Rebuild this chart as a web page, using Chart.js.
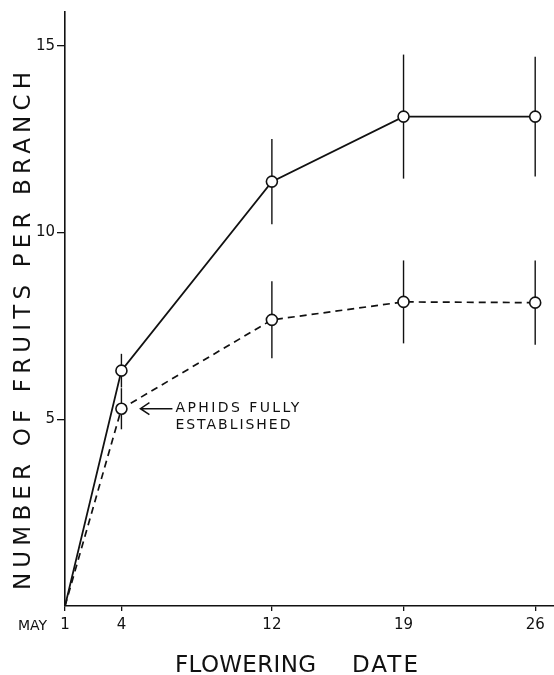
<!DOCTYPE html>
<html>
<head>
<meta charset="utf-8">
<script src="https://cdn.jsdelivr.net/npm/chart.js@4.4.0/dist/chart.umd.min.js"></script>
<style>
  html, body { margin: 0; padding: 0; background: #fff; }
  #wrap { width: 554px; height: 675px; }
</style>
</head>
<body>
<div id="wrap"><canvas id="chart" width="554" height="675"></canvas></div>
<script>
// flowering date (day of May) and fruits per branch
const days = [1, 4, 12, 19, 26];
const xTicks = [1, 4, 12, 19, 26];
const yTicks = [5, 10, 15];
const controlFruits = [0, 6.3, 11.36, 13.1, 13.1];
const controlErr = [0, 0.45, 1.14, 1.66, 1.6];
const aphidFruits = [0, 5.28, 7.66, 8.14, 8.12];
const aphidErr = [0, 0.55, 1.03, 1.11, 1.13];

const INK = '#111';
const FONT = '"DejaVu Sans", sans-serif';

const toPoints = (vals) => days.map((d, i) => ({ x: d, y: vals[i] }));

// draws text stretched to a given width with letter spacing
function spacedText(ctx, text, x, y, width) {
    ctx.letterSpacing = '0px';
    const w = ctx.measureText(text).width;
    ctx.letterSpacing = ((width - w) / (text.length - 1)) + 'px';
    ctx.fillText(text, x, y);
    ctx.letterSpacing = '0px';
}

const errorBars = {
    id: 'errorBars',
    beforeDatasetsDraw(chart) {
        const { ctx, scales: { x, y } } = chart;
        ctx.save();
        ctx.strokeStyle = INK; ctx.lineWidth = 1.4;
        [[controlFruits, controlErr], [aphidFruits, aphidErr]].forEach(([vals, errs]) => {
            days.forEach((d, i) => {
                if (!errs[i]) return;
                const px = x.getPixelForValue(d);
                ctx.beginPath();
                ctx.moveTo(px, y.getPixelForValue(vals[i] + errs[i]));
                ctx.lineTo(px, y.getPixelForValue(vals[i] - errs[i]));
                ctx.stroke();
            });
        });
        ctx.restore();
    }
};

const labels = {
    id: 'labels',
    afterDraw(chart) {
        const { ctx, scales: { x, y }, chartArea } = chart;
        ctx.save();
        ctx.fillStyle = INK; ctx.strokeStyle = INK;

        // aphid note with arrow pointing at the May 4 point
        const px = x.getPixelForValue(days[1]);
        const py = y.getPixelForValue(aphidFruits[1]);
        ctx.lineWidth = 1.5;
        ctx.beginPath();
        ctx.moveTo(px + 19, py); ctx.lineTo(px + 51, py);
        ctx.moveTo(px + 28, py - 6); ctx.lineTo(px + 19, py); ctx.lineTo(px + 28, py + 6);
        ctx.stroke();
        ctx.font = '14px ' + FONT;
        ctx.textBaseline = 'middle'; ctx.textAlign = 'left';
        spacedText(ctx, 'APHIDS FULLY', px + 54, py, 124);
        spacedText(ctx, 'ESTABLISHED', px + 54, py + 17, 115);

        // "MAY" in front of the first date tick
        ctx.textAlign = 'right';
        ctx.fillText('MAY', x.getPixelForValue(xTicks[0]) - 18, chartArea.bottom + 20);

        // axis titles
        ctx.font = '23px ' + FONT;
        ctx.textAlign = 'left'; ctx.textBaseline = 'alphabetic';
        spacedText(ctx, 'FLOWERING', 175, 672, 141);
        spacedText(ctx, 'DATE', 352, 672, 66);

        ctx.translate(30, 590);
        ctx.rotate(-Math.PI / 2);
        spacedText(ctx, 'NUMBER OF FRUITS PER BRANCH', 0, 0, 518);
        ctx.restore();
    }
};

new Chart(document.getElementById('chart'), {
    type: 'line',
    data: {
        datasets: [
            {
                data: toPoints(controlFruits),
                borderColor: INK, borderWidth: 1.8,
                pointRadius: days.map((d, i) => i === 0 ? 0 : 5.5),
                pointBackgroundColor: '#fff', pointBorderColor: INK, pointBorderWidth: 1.6
            },
            {
                data: toPoints(aphidFruits),
                borderColor: INK, borderWidth: 1.7, borderDash: [7, 5],
                pointRadius: days.map((d, i) => i === 0 ? 0 : 5.5),
                pointBackgroundColor: '#fff', pointBorderColor: INK, pointBorderWidth: 1.6
            }
        ]
    },
    options: {
        responsive: false,
        animation: false,
        devicePixelRatio: 1,
        layout: { autoPadding: false, padding: { top: 12, right: 0, left: 0, bottom: 0 } },
        plugins: { legend: { display: false }, tooltip: { enabled: false } },
        scales: {
            x: {
                type: 'linear', min: 1, max: 27,
                afterBuildTicks: (s) => { s.ticks = xTicks.map(v => ({ value: v })); },
                afterFit: (s) => { s.height = 69; s.paddingLeft = 0; s.paddingRight = 0; },
                grid: { drawOnChartArea: false, tickLength: 5, color: INK, lineWidth: 1.3 },
                border: { color: INK, width: 1.6 },
                ticks: { color: INK, font: { family: FONT, size: 15 }, padding: 5, maxRotation: 0 }
            },
            y: {
                type: 'linear', min: 0, max: 15.9,
                afterBuildTicks: (s) => { s.ticks = yTicks.map(v => ({ value: v })); },
                afterFit: (s) => { s.width = 65; s.paddingTop = 0; s.paddingBottom = 0; },
                grid: { drawOnChartArea: false, tickLength: 8, color: INK, lineWidth: 1.3 },
                border: { color: INK, width: 1.6 },
                ticks: { color: INK, font: { family: FONT, size: 15 }, padding: 2 }
            }
        }
    },
    plugins: [errorBars, labels]
});
</script>
</body>
</html>
